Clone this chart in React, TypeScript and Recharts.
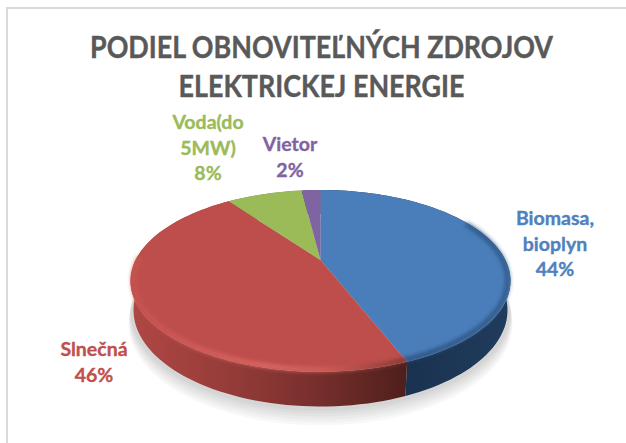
import React from "react";
import { PieChart, Pie } from "recharts";

const names = ["Biomasa, bioplyn", "Slnečná", "Voda(do 5MW)", "Vietor"];
const values = [44, 46, 8, 2];
const labelLines = [["Biomasa,", "bioplyn", "44%"], ["Slnečná", "46%"], ["Voda(do", "5MW)", "8%"], ["Vietor", "2%"]];
const titleLines = ["PODIEL OBNOVITEĽNÝCH ZDROJOV", "ELEKTRICKEJ ENERGIE"];

const faceColors = ["#4a7ebb", "#bd4e4b", "#9bbb59", "#8064a2"];
const labelColors = ["#4f81bd", "#c0504d", "#9bbb59", "#8064a2"];
const wallFills = ["url(#wallBlue)", "url(#wallRed)", "#6f8a3e", "#5c4876"];
const bevelStrokes = ["url(#bevelBlue)", "url(#bevelRed)", "none", "none"];
const bevelRanges: ([number, number] | null)[] = [[62, 360], [0, 272], null, null];
const shadowSteps = [0.3, 0.32, 0.34, 0.36, 0.38, 0.4];
const labelAnchors = [
  { x: 555, y: 225 },
  { x: 94, y: 356 },
  { x: 208, y: 129 },
  { x: 290, y: 151 },
];

const rows = names.map((name, i) => ({ name, value: values[i] }));

const PERSP = 0.23;
const project = (cx: number, cy: number, r: number, deg: number, scale = 1, depth = 0) => {
  const t = (deg * Math.PI) / 180;
  const w = 1 + PERSP * Math.cos(t) * scale;
  return {
    x: cx + (1.849 * r * Math.sin(t) * scale) / w,
    y: cy - (0.861 * r * Math.cos(t) * scale) / w + (depth * r) / w,
  };
};
const arcPoints = (cx: number, cy: number, r: number, a: number, b: number, scale = 1, depth = 0) => {
  const n = Math.max(2, Math.ceil(Math.abs(b - a) / 2));
  return Array.from({ length: n + 1 }, (_, i) => project(cx, cy, r, a + ((b - a) * i) / n, scale, depth));
};
const toPath = (pts: { x: number; y: number }[]) =>
  pts.map((p, i) => `${i ? "L" : "M"}${p.x.toFixed(2)} ${p.y.toFixed(2)}`).join(" ");

const clockwise = (p: any) => [90 - p.startAngle, 90 - p.endAngle] as const;

const WallShape = (p: any) => {
  const [a, b] = clockwise(p);
  return (
    <g>
      {p.index === 0 &&
        shadowSteps.map((depth, i) => (
          <path
            key={depth}
            d={toPath(arcPoints(p.cx, p.cy, p.outerRadius, 0, 360, 1 + i * 0.002, depth)) + " Z"}
            fill="#000"
            fillOpacity={0.028}
          />
        ))}
      <path
        d={toPath([...arcPoints(p.cx, p.cy, p.outerRadius, a, b), ...arcPoints(p.cx, p.cy, p.outerRadius, b, a, 0.985, 0.285)]) + " Z"}
        fill={wallFills[p.index]}
      />
    </g>
  );
};
const FaceShape = (p: any) => {
  const [a, b] = clockwise(p);
  return (
    <path
      d={toPath([{ x: p.cx, y: p.cy }, ...arcPoints(p.cx, p.cy, p.outerRadius, a, b)]) + " Z"}
      fill={faceColors[p.index]}
    />
  );
};
const BevelShape = (p: any) => {
  const range = bevelRanges[p.index];
  if (!range) return <g />;
  const [a, b] = clockwise(p);
  const from = Math.max(a, range[0]);
  const to = Math.min(b, range[1]);
  return (
    <path
      d={toPath(arcPoints(p.cx, p.cy, p.outerRadius, from, to, 0.985))}
      fill="none"
      stroke={bevelStrokes[p.index]}
      strokeWidth={4}
      filter="url(#bevelBlur)"
    />
  );
};

const renderLabel = (p: any) => {
  const a = labelAnchors[p.index];
  return (
    <text
      x={a.x}
      y={a.y}
      textAnchor="middle"
      fontFamily="Lato"
      fontWeight={700}
      fontSize={19.5}
      fill={labelColors[p.index]}
      stroke={labelColors[p.index]}
      strokeWidth={0.35}
    >
      {labelLines[p.index].map((line, i) => (
        <tspan key={line} x={a.x} dy={i ? 25.5 : 0}>
          {line}
        </tspan>
      ))}
    </text>
  );
};

const commonPie = {
  data: rows,
  dataKey: "value",
  nameKey: "name",
  cx: 320.5,
  cy: 260,
  innerRadius: 0,
  outerRadius: 100,
  startAngle: 90,
  endAngle: -270,
  paddingAngle: 0,
  stroke: "none",
  isAnimationActive: false,
  labelLine: false,
};

const titleProps = {
  x: 321.5,
  textAnchor: "middle",
  fontFamily: "Lato",
  fontWeight: 700,
  fontSize: 30,
  fill: "#595959",
  stroke: "#595959",
  strokeWidth: 0.4,
  lengthAdjust: "spacingAndGlyphs",
} as const;

export default function App() {
  return (
    <div style={{ position: "absolute", left: 0, top: 0, width: 626, height: 443, background: "#fff", overflow: "hidden" }}>
      <div style={{ position: "absolute", left: 6, top: 7, right: 0, bottom: 0, borderTop: "2px solid #d9d9d9", borderLeft: "2px solid #d9d9d9" }} />
      <div style={{ position: "absolute", left: 0, top: 0 }}>
        <PieChart width={626} height={443} margin={{ top: 0, right: 0, bottom: 0, left: 0 }}>
          <defs>
            <filter id="bevelBlur" x="-10%" y="-20%" width="120%" height="140%">
              <feGaussianBlur stdDeviation="2" />
            </filter>
            <linearGradient id="wallRed" gradientUnits="userSpaceOnUse" x1="130" y1="0" x2="406" y2="0">
              <stop offset="0" stopColor="#b04744" />
              <stop offset="0.3" stopColor="#9a3e3b" />
              <stop offset="0.65" stopColor="#7a302e" />
              <stop offset="1" stopColor="#4f1f1b" />
            </linearGradient>
            <linearGradient id="wallBlue" gradientUnits="userSpaceOnUse" x1="406" y1="0" x2="511" y2="0">
              <stop offset="0" stopColor="#1a3250" />
              <stop offset="1" stopColor="#203c5c" />
            </linearGradient>
            <linearGradient id="bevelRed" gradientUnits="userSpaceOnUse" x1="130" y1="0" x2="406" y2="0">
              <stop offset="0" stopColor="#c9534f" />
              <stop offset="0.5" stopColor="#e46e69" />
              <stop offset="0.72" stopColor="#d0605c" />
              <stop offset="1" stopColor="#70302c" />
            </linearGradient>
            <linearGradient id="bevelBlue" gradientUnits="userSpaceOnUse" x1="406" y1="0" x2="511" y2="0">
              <stop offset="0" stopColor="#274a74" />
              <stop offset="1" stopColor="#2d537f" />
            </linearGradient>
          </defs>
          <text {...titleProps} y={58} textLength={463}>
            {titleLines[0]}
          </text>
          <text {...titleProps} y={97} textLength={286}>
            {titleLines[1]}
          </text>
          <Pie {...commonPie} shape={WallShape} />
          <Pie {...commonPie} shape={FaceShape} />
          <Pie {...commonPie} shape={BevelShape} label={renderLabel} />
        </PieChart>
      </div>
    </div>
  );
}
